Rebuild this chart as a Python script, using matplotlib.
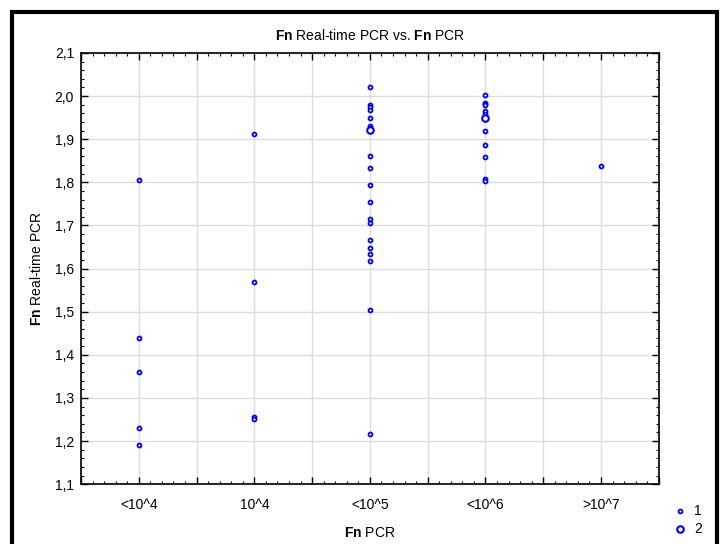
import matplotlib.pyplot as plt
from matplotlib.patches import Rectangle
from matplotlib.ticker import MultipleLocator, FuncFormatter
import numpy as np

plt.rcParams['font.family'] = ['Liberation Sans', 'DejaVu Sans']
plt.rcParams['mathtext.fontset'] = 'custom'
plt.rcParams['mathtext.rm'] = 'Liberation Sans'
plt.rcParams['mathtext.bf'] = 'Liberation Sans:bold'

categories = ['<10^4', '10^4', '<10^5', '<10^6', '>10^7']

# group 1 (small markers)
x1 = [1, 1, 1, 1, 1,
      2, 2, 2, 2,
      3, 3, 3, 3, 3, 3, 3, 3, 3, 3, 3, 3, 3, 3, 3, 3, 3, 3, 3,
      4, 4, 4, 4, 4, 4, 4, 4, 4, 4, 4, 4,
      5]
y1 = [1.805, 1.439, 1.361, 1.230, 1.190,
      1.912, 1.568, 1.255, 1.251,
      2.022, 1.979, 1.974, 1.968, 1.950, 1.930, 1.861, 1.834, 1.794,
      1.755, 1.716, 1.705, 1.666, 1.648, 1.634, 1.617, 1.504, 1.216, 1.926,
      2.003, 1.985, 1.981, 1.979, 1.965, 1.958, 1.946, 1.918, 1.887, 1.858,
      1.807, 1.803,
      1.838]

# group 2 (larger open markers)
x2 = [3, 4]
y2 = [1.921, 1.950]

fig = plt.figure(figsize=(7.2, 5.44), dpi=100)
ax = fig.add_axes([0.1125, 0.110, 0.8025, 0.7926])

ax.scatter(x1, y1, s=8, facecolors='white', edgecolors='#0000ff',
           linewidths=1.3, zorder=3, label='1')
ax.scatter(x2, y2, s=22, facecolors='white', edgecolors='#0000ff',
           linewidths=1.5, zorder=3, label='2')

ax.set_xlim(0.5, 5.5)
ax.set_ylim(1.1, 2.1)

ax.xaxis.set_major_locator(MultipleLocator(0.5))
ax.xaxis.set_minor_locator(MultipleLocator(0.1))
ax.yaxis.set_major_locator(MultipleLocator(0.1))
ax.yaxis.set_minor_locator(MultipleLocator(0.02))


def xfmt(v, pos):
    i = int(round(v))
    if abs(v - i) < 1e-6 and 1 <= i <= len(categories):
        return categories[i - 1]
    return ''


ax.xaxis.set_major_formatter(FuncFormatter(xfmt))
ax.yaxis.set_major_formatter(FuncFormatter(lambda v, p: f'{v:.1f}'.replace('.', ',')))

ax.grid(True, which='major', color='#dddddd', linewidth=1.0, zorder=0)
ax.set_axisbelow(True)
ax.tick_params(which='both', direction='in', top=True, right=True,
               labelsize=10, color='black')
ax.tick_params(which='major', length=5, width=1)
ax.tick_params(which='minor', length=2.5, width=0.8)
ax.tick_params(axis='x', pad=10)
ax.tick_params(axis='y', pad=5)
for sp in ax.spines.values():
    sp.set_linewidth(1.2)

ax.set_title(r'$\bf{Fn}$ Real-time PCR vs. $\bf{Fn}$ PCR', fontsize=10, pad=9)
ax.set_xlabel(r'$\bf{Fn}$ PCR', fontsize=10, labelpad=10)
ax.set_ylabel(r'$\bf{Fn}$ Real-time PCR', fontsize=10, labelpad=8)

fig.legend(loc='lower left', bbox_to_anchor=(0.927, 0.005), frameon=False,
           fontsize=10, handletextpad=0.5, borderaxespad=0, labelspacing=0.3,
           handlelength=1.0)

# outer frame, bottom edge runs off the canvas
fig.patches.append(Rectangle((12 / 720, -0.02), 705 / 720, 1 - 12 / 544 + 0.02,
                             transform=fig.transFigure, fill=False,
                             edgecolor='black', linewidth=3))

fig.savefig('out.png', dpi=100)
